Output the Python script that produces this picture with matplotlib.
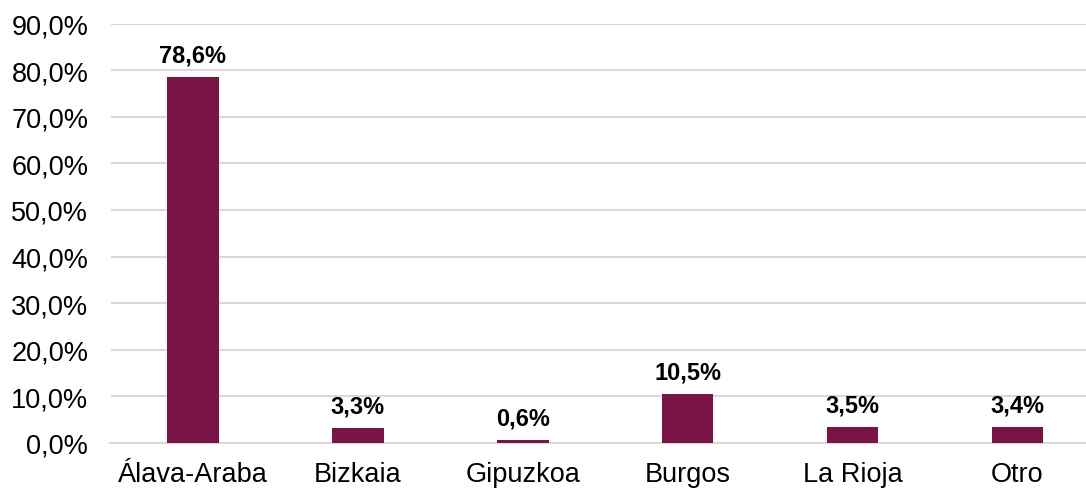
import matplotlib.pyplot as plt
from matplotlib.ticker import FuncFormatter

# datos
categorias = ['Álava-Araba', 'Bizkaia', 'Gipuzkoa', 'Burgos', 'La Rioja', 'Otro']
valores = [78.6, 3.3, 0.6, 10.5, 3.5, 3.4]
ticks_y = [0, 10, 20, 30, 40, 50, 60, 70, 80, 90]

plt.rcParams['font.family'] = ['Liberation Sans', 'DejaVu Sans']

fig = plt.figure(figsize=(10.86, 4.89), dpi=100)
ax = fig.add_axes([110.5 / 1086, 45 / 489, 989.5 / 1086, 419.5 / 489])

x = list(range(len(categorias)))
ax.bar(x, valores, width=0.312, color='#7a1346', zorder=3)

for xi, v in zip(x, valores):
    ax.annotate(f'{v:.1f}%'.replace('.', ','), (xi, v), xytext=(0, 11),
                textcoords='offset points', ha='center', va='baseline',
                fontsize=17, fontweight='bold', color='#000000')

ax.set_xlim(-0.5, 5.5)
ax.set_ylim(0, 90)
ax.set_yticks(ticks_y)
ax.yaxis.set_major_formatter(FuncFormatter(lambda v, p: f'{v:.1f}%'.replace('.', ',')))
ax.set_xticks(x)
ax.set_xticklabels(categorias)
ax.tick_params(axis='y', length=0, pad=16, labelsize=19.5, labelcolor='#000000')
ax.tick_params(axis='x', length=0, pad=13, labelsize=19.5, labelcolor='#000000')

ax.grid(axis='y', color='#d9d9d9', linewidth=1.5, zorder=0)
for s in ['top', 'right', 'left']:
    ax.spines[s].set_visible(False)
ax.spines['bottom'].set_color('#d9d9d9')
ax.spines['bottom'].set_linewidth(1.5)

fig.savefig('out.png', dpi=100)
plt.close()
